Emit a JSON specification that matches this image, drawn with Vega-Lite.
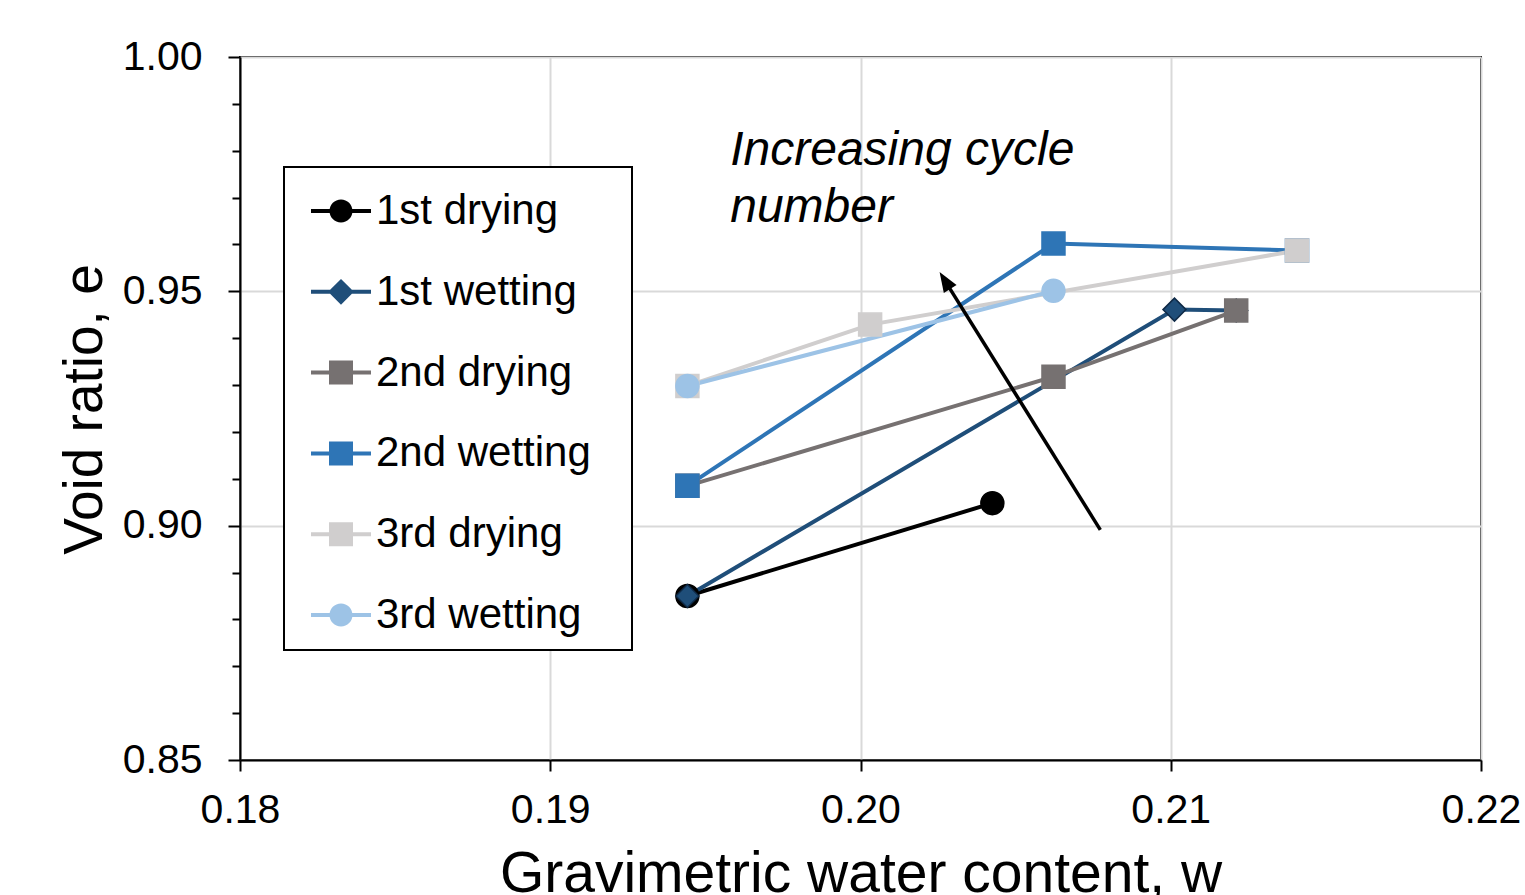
{
  "$schema": "https://vega.github.io/schema/vega-lite/v6.json",
  "width": 1241,
  "height": 703,
  "autosize": {"type": "none"},
  "padding": {"left": 240, "top": 57, "right": 44, "bottom": 135},
  "background": "white",
  "config": {
    "font": "Liberation Sans",
    "view": {"stroke": "black", "strokeWidth": 2},
    "legend": {"strokeWidth": 2}
  },
  "datasets": {
    "curves": [
      {"series": "1st drying", "order": 1, "w": 0.20425, "e": 0.9048},
      {"series": "1st drying", "order": 2, "w": 0.19442, "e": 0.8850},
      {"series": "1st wetting", "order": 1, "w": 0.19442, "e": 0.8850},
      {"series": "1st wetting", "order": 2, "w": 0.21012, "e": 0.9461},
      {"series": "1st wetting", "order": 3, "w": 0.21211, "e": 0.9459},
      {"series": "2nd drying", "order": 1, "w": 0.21211, "e": 0.9459},
      {"series": "2nd drying", "order": 2, "w": 0.20622, "e": 0.9318},
      {"series": "2nd drying", "order": 3, "w": 0.19442, "e": 0.9085},
      {"series": "2nd wetting", "order": 1, "w": 0.19442, "e": 0.9085},
      {"series": "2nd wetting", "order": 2, "w": 0.20622, "e": 0.9602},
      {"series": "2nd wetting", "order": 3, "w": 0.21407, "e": 0.9587},
      {"series": "3rd drying", "order": 1, "w": 0.21407, "e": 0.9587},
      {"series": "3rd drying", "order": 2, "w": 0.20031, "e": 0.9429},
      {"series": "3rd drying", "order": 3, "w": 0.19442, "e": 0.9298},
      {"series": "3rd wetting", "order": 1, "w": 0.19442, "e": 0.9298},
      {"series": "3rd wetting", "order": 2, "w": 0.20622, "e": 0.9501}
    ],
    "note": [{"w": 0.1958, "e": 0.977, "label": "Increasing cycle\nnumber"}],
    "arrow": [{"w": 0.20773, "e": 0.8991, "w2": 0.20272, "e2": 0.95229}],
    "arrowhead": [{"w": 0.20272, "e": 0.95229}]
  },
  "encoding": {
    "x": {
      "field": "w",
      "type": "quantitative",
      "scale": {"domain": [0.18, 0.22], "nice": false, "zero": false},
      "axis": {
        "values": [0.18, 0.19, 0.20, 0.21, 0.22],
        "format": ".2f",
        "title": "Gravimetric water content, w",
        "titleFontSize": 57,
        "titleFontWeight": "normal",
        "titleColor": "black",
        "titleX": 620.5,
        "titleY": 131,
        "titleAlign": "center",
        "titleBaseline": "alphabetic",
        "labelFontSize": 41,
        "labelColor": "black",
        "labelPadding": 19,
        "labelFlush": false,
        "labelOverlap": false,
        "tickSize": 11,
        "tickWidth": 2,
        "tickColor": "black",
        "domainColor": "black",
        "domainWidth": 2,
        "grid": true,
        "gridColor": "#d9d9d9",
        "gridWidth": 2
      }
    },
    "y": {
      "field": "e",
      "type": "quantitative",
      "scale": {"domain": [0.85, 1.0], "nice": false, "zero": false},
      "axis": {
        "values": [0.85, 0.86, 0.87, 0.88, 0.89, 0.90, 0.91, 0.92, 0.93, 0.94, 0.95, 0.96, 0.97, 0.98, 0.99, 1.00],
        "labelExpr": "round(datum.value * 100) % 5 == 0 ? format(datum.value, '.2f') : ''",
        "title": "Void ratio, e",
        "titleFontSize": 55,
        "titleFontWeight": "normal",
        "titleColor": "black",
        "titleX": -139,
        "titleY": 352,
        "titleAngle": -90,
        "titleAlign": "center",
        "titleBaseline": "alphabetic",
        "labelFontSize": 41,
        "labelColor": "black",
        "labelPadding": 26,
        "labelFlush": false,
        "labelOverlap": false,
        "tickSize": {"condition": {"test": "round(datum.value * 100) % 5 == 0", "value": 12}, "value": 8},
        "tickWidth": 2,
        "tickColor": "black",
        "domainColor": "black",
        "domainWidth": 2,
        "grid": true,
        "gridColor": "#d9d9d9",
        "gridWidth": 2,
        "gridOpacity": {"condition": {"test": "round(datum.value * 100) % 5 == 0", "value": 1}, "value": 0}
      }
    }
  },
  "layer": [
    {
      "data": {"name": "curves"},
      "mark": {"type": "line", "strokeWidth": 4},
      "encoding": {
        "color": {
          "field": "series",
          "type": "nominal",
          "scale": {
            "domain": ["1st drying", "1st wetting", "2nd drying", "2nd wetting", "3rd drying", "3rd wetting"],
            "range": ["#000000", "#1f4e79", "#767171", "#2e75b6", "#d0cece", "#9dc3e6"]
          },
          "legend": null
        },
        "order": {"field": "order", "type": "quantitative"}
      }
    },
    {
      "data": {"name": "curves"},
      "mark": {"type": "point", "filled": true, "size": 529, "strokeWidth": 1.5, "opacity": 1},
      "encoding": {
        "color": {
          "field": "series",
          "type": "nominal",
          "scale": {
            "domain": ["1st drying", "1st wetting", "2nd drying", "2nd wetting", "3rd drying", "3rd wetting"],
            "range": ["#000000", "#1f4e79", "#767171", "#2e75b6", "#d0cece", "#9dc3e6"]
          },
          "legend": null
        },
        "stroke": {
          "field": "series",
          "type": "nominal",
          "scale": {
            "domain": ["1st drying", "1st wetting", "2nd drying", "2nd wetting", "3rd drying", "3rd wetting"],
            "range": ["#000000", "#0f2a47", "#767171", "#2e75b6", "#d0cece", "#9dc3e6"]
          },
          "legend": null
        },
        "shape": {
          "field": "series",
          "type": "nominal",
          "scale": {
            "domain": ["1st drying", "1st wetting", "2nd drying", "2nd wetting", "3rd drying", "3rd wetting"],
            "range": ["circle", "diamond", "square", "square", "square", "circle"]
          },
          "legend": null
        }
      }
    },
    {
      "data": {"name": "curves"},
      "mark": {"type": "point", "filled": true, "opacity": 0},
      "encoding": {
        "color": {
          "field": "series",
          "type": "nominal",
          "scale": {
            "domain": ["1st drying", "1st wetting", "2nd drying", "2nd wetting", "3rd drying", "3rd wetting"],
            "range": ["#000000", "#1f4e79", "#767171", "#2e75b6", "#d0cece", "#9dc3e6"]
          },
          "legend": {
            "title": "\u00a0",
            "titleOrient": "right",
            "titlePadding": 27,
            "titleFontSize": 10,
            "orient": "none",
            "legendX": 44,
            "legendY": 110,
            "padding": 14,
            "symbolOffset": 13,
            "symbolSize": 3600,
            "symbolStrokeWidth": 0,
            "symbolOpacity": 1,
            "rowPadding": 29.8,
            "labelFontSize": 42,
            "labelFont": "Liberation Sans",
            "labelColor": "black",
            "labelOffset": 5,
            "labelLimit": 500,
            "strokeColor": "black",
            "fillColor": "white"
          }
        },
        "shape": {
          "field": "series",
          "type": "nominal",
          "scale": {
            "domain": ["1st drying", "1st wetting", "2nd drying", "2nd wetting", "3rd drying", "3rd wetting"],
            "range": [
              "M-1,-0.067H1V0.067H-1Z M0.383,0 A0.383 0.383 0 1 1 -0.383,0 A0.383 0.383 0 1 1 0.383,0Z",
              "M-1,-0.067H1V0.067H-1Z M0,-0.43L0.43,0L0,0.43L-0.43,0Z",
              "M-1,-0.067H1V0.067H-1Z M-0.4,-0.4H0.4V0.4H-0.4Z",
              "M-1,-0.067H1V0.067H-1Z M-0.4,-0.4H0.4V0.4H-0.4Z",
              "M-1,-0.067H1V0.067H-1Z M-0.4,-0.4H0.4V0.4H-0.4Z",
              "M-1,-0.067H1V0.067H-1Z M0.383,0 A0.383 0.383 0 1 1 -0.383,0 A0.383 0.383 0 1 1 0.383,0Z"
            ]
          },
          "legend": {
            "title": "\u00a0",
            "titleOrient": "right",
            "titlePadding": 27,
            "titleFontSize": 10,
            "orient": "none",
            "legendX": 44,
            "legendY": 110,
            "padding": 14,
            "symbolOffset": 13,
            "symbolSize": 3600,
            "symbolStrokeWidth": 0,
            "symbolOpacity": 1,
            "rowPadding": 29.8,
            "labelFontSize": 42,
            "labelFont": "Liberation Sans",
            "labelColor": "black",
            "labelOffset": 5,
            "labelLimit": 500,
            "strokeColor": "black",
            "fillColor": "white"
          }
        }
      }
    },
    {
      "data": {"name": "note"},
      "mark": {
        "type": "text",
        "align": "left",
        "baseline": "alphabetic",
        "fontStyle": "italic",
        "fontSize": 48,
        "lineBreak": "\n",
        "lineHeight": 57,
        "color": "black"
      },
      "encoding": {"text": {"field": "label", "type": "nominal"}}
    },
    {
      "data": {"name": "arrow"},
      "mark": {"type": "rule", "strokeWidth": 3.5, "color": "black"},
      "encoding": {"x2": {"field": "w2"}, "y2": {"field": "e2"}}
    },
    {
      "data": {"name": "arrowhead"},
      "mark": {
        "type": "point",
        "filled": true,
        "color": "black",
        "opacity": 1,
        "shape": "M0,-1L0.75,1L-0.75,1Z",
        "size": 400,
        "angle": 328
      },
      "encoding": {}
    }
  ],
  "resolve": {"scale": {"color": "independent", "shape": "independent", "stroke": "independent"}}
}
